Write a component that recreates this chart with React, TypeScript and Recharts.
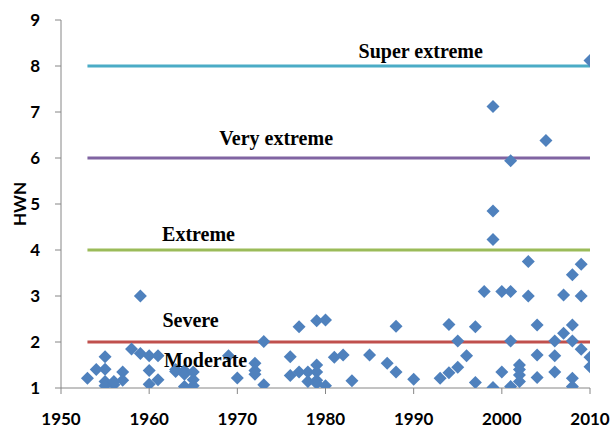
import React from "react";
import {
  ComposedChart,
  Scatter,
  XAxis,
  YAxis,
  ReferenceLine,
  ReferenceDot,
} from "recharts";

// heatwave events: year and HWN value
const eventYears = [
  1953, 1954, 1955, 1955, 1955, 1955, 1956, 1956, 1957, 1957, 1958, 1959, 1959,
  1960, 1960, 1960, 1961, 1961, 1963, 1963, 1964, 1964, 1964, 1965, 1965, 1965,
  1969, 1970, 1972, 1972, 1972, 1973, 1973, 1976, 1976, 1977, 1977, 1978, 1978,
  1979, 1979, 1979, 1979, 1979, 1980, 1980, 1981, 1982, 1983, 1985, 1987, 1988,
  1988, 1990, 1993, 1994, 1994, 1995, 1995, 1996, 1997, 1997, 1998, 1999, 1999,
  1999, 1999, 2000, 2000, 2001, 2001, 2001, 2001, 2002, 2002, 2002, 2002, 2003,
  2003, 2004, 2004, 2004, 2005, 2006, 2006, 2006, 2007, 2007, 2008, 2008, 2008,
  2008, 2008, 2009, 2009, 2009, 2010, 2010, 2010,
];

const eventValues = [
  1.21, 1.4, 1.68, 1.41, 1.14, 1.05, 1.07, 1.14, 1.35, 1.17, 1.85, 3.0, 1.75,
  1.7, 1.38, 1.08, 1.7, 1.18, 1.36, 1.4, 1.38, 1.03, 1.3, 1.35, 1.18, 1.05,
  1.7, 1.22, 1.54, 1.38, 1.3, 2.01, 1.07, 1.68, 1.27, 2.33, 1.35, 1.35, 1.14,
  2.46, 1.5, 1.35, 1.17, 1.1, 2.48, 1.05, 1.67, 1.72, 1.16, 1.72, 1.54, 2.34,
  1.35, 1.19, 1.21, 2.38, 1.33, 2.02, 1.45, 1.7, 2.33, 1.12, 3.1, 7.12, 4.85,
  4.23, 1.01, 3.1, 1.35, 5.94, 3.1, 2.02, 1.03, 1.5, 1.4, 1.28, 1.14, 3.75,
  3.0, 2.37, 1.72, 1.23, 6.38, 2.02, 1.7, 1.35, 3.02, 2.19, 3.46, 2.37, 2.02,
  1.21, 1.03, 3.69, 3.0, 1.84, 8.12, 1.67, 1.46,
];

const thresholdNames = ["Severe", "Extreme", "Very extreme", "Super extreme"];
const thresholdValues = [2, 4, 6, 8];
const thresholdColors = ["#C0504D", "#9BBB59", "#8064A2", "#4BACC6"];

const xTicks = [1950, 1960, 1970, 1980, 1990, 2000, 2010];
const yTicks = [1, 2, 3, 4, 5, 6, 7, 8, 9];

const data = eventYears.map((year, i) => ({ year, hwn: eventValues[i] }));

// where each category name sits (year, hwn)
const labelSpots: Record<string, [number, number]> = {
  Moderate: [1966.4, 1.61],
  Severe: [1964.7, 2.47],
  Extreme: [1965.6, 4.35],
  "Very extreme": [1974.4, 6.44],
  "Super extreme": [1990.8, 8.32],
};

const Diamond = (props: any) => {
  const { cx, cy } = props;
  const r = 6.5;
  return (
    <polygon
      points={`${cx},${cy - r} ${cx + r},${cy} ${cx},${cy + r} ${cx - r},${cy}`}
      fill="#4F81BD"
    />
  );
};

const axisFont = {
  fontFamily: "Lato, 'Open Sans', sans-serif",
  fontWeight: 700,
  fontSize: 17,
  fill: "#000",
};

export default function App() {
  return (
    <div style={{ position: "absolute", left: 0, top: 0, background: "#fff" }}>
      <ComposedChart
        width={612}
        height={428}
        data={data}
        margin={{ top: 20, right: 22, left: 0, bottom: 0 }}
      >
        <XAxis
          type="number"
          dataKey="year"
          domain={[1950, 2010]}
          ticks={xTicks}
          allowDataOverflow
          height={40}
          tick={axisFont}
          tickSize={6}
          tickMargin={19}
          axisLine={{ stroke: "#868686" }}
          tickLine={{ stroke: "#868686" }}
        />
        <YAxis
          type="number"
          dataKey="hwn"
          domain={[1, 9]}
          ticks={yTicks}
          allowDataOverflow
          width={61}
          tick={axisFont}
          tickSize={6}
          tickMargin={15}
          axisLine={{ stroke: "#868686" }}
          tickLine={{ stroke: "#868686" }}
          label={{
            value: "HWN",
            angle: -90,
            position: "insideLeft",
            offset: 20,
            style: { ...axisFont, textAnchor: "middle" },
          }}
        />
        {thresholdValues.map((v, i) => (
          <ReferenceLine
            key={thresholdNames[i]}
            segment={[
              { x: 1953, y: v },
              { x: 2010, y: v },
            ]}
            stroke={thresholdColors[i]}
            strokeWidth={3}
            ifOverflow="visible"
          />
        ))}
        <Scatter
          dataKey="hwn"
          shape={<Diamond />}
          isAnimationActive={false}
        />
        {Object.keys(labelSpots).map((name) => (
          <ReferenceDot
            key={name}
            x={labelSpots[name][0]}
            y={labelSpots[name][1]}
            r={0}
            fill="none"
            stroke="none"
            ifOverflow="visible"
            label={{
              value: name,
              position: "center",
              style: {
                fontFamily: "'Liberation Serif', 'Times New Roman', serif",
                fontWeight: 700,
                fontSize: 20,
                fill: "#000",
              },
            }}
          />
        ))}
      </ComposedChart>
    </div>
  );
}
